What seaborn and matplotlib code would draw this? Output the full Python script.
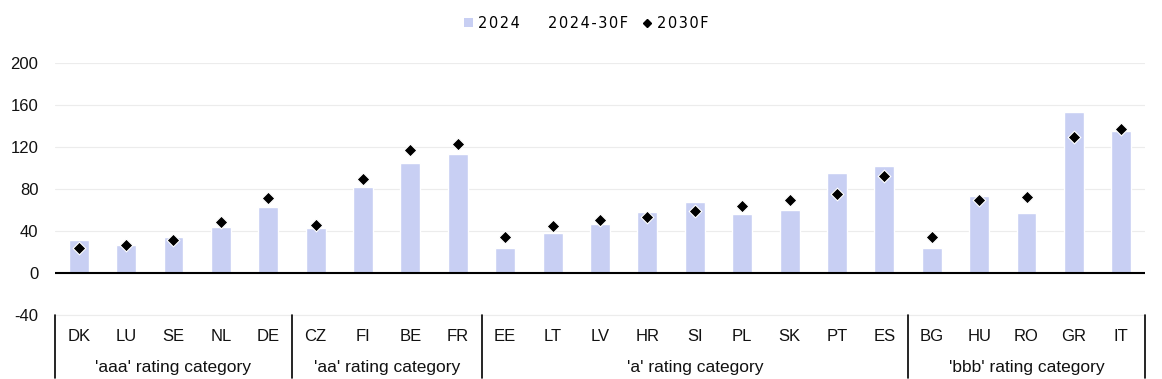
import matplotlib
matplotlib.use("Agg")
import matplotlib.pyplot as plt
import seaborn as sns
import pandas as pd
from matplotlib.patches import Patch
from matplotlib.lines import Line2D

countries = ["DK", "LU", "SE", "NL", "DE", "CZ", "FI", "BE", "FR",
             "EE", "LT", "LV", "HR", "SI", "PL", "SK", "PT", "ES",
             "BG", "HU", "RO", "GR", "IT"]
v2024 = [31, 27, 34, 43.5, 63, 43, 82, 105, 113,
         24, 38, 47, 58, 68, 56, 60, 95, 102,
         24, 73.5, 57.5, 153.5, 135]
v2030 = [24, 27, 31, 49, 71, 46, 90, 117.5, 122.5,
         34, 45, 50.5, 53.5, 59, 64, 70, 75.5, 92,
         34, 70, 72, 130, 137]
groups = ["'aaa' rating category", "'aa' rating category",
          "'a' rating category", "'bbb' rating category"]
group_sizes = [5, 4, 9, 5]
yticks = [-40, 0, 40, 80, 120, 160, 200]
legend_labels = ["2024", "2024-30F", "2030F"]

bar_color = "#c8cff3"

sns.set_theme(style="white")
plt.rcParams["font.family"] = ["Liberation Sans", "DejaVu Sans"]

df = pd.DataFrame({"country": countries, "v2024": v2024, "v2030": v2030})

fig = plt.figure(figsize=(11.62, 3.79), dpi=100)
ax = fig.add_axes([55 / 1162, (379 - 315) / 379, (1145 - 55) / 1162, (315 - 63) / 379])

sns.barplot(data=df, x="country", y="v2024", color=bar_color, width=0.42,
            saturation=1, ax=ax, zorder=2)
sns.scatterplot(data=df, x="country", y="v2030", marker="D", color="black",
                edgecolor="white", linewidth=0.8, s=42, ax=ax, zorder=3)

ax.set_xlim(-0.5, len(countries) - 0.5)
ax.set_ylim(-40, 200)
ax.set_yticks(yticks)
ax.set_yticklabels([str(t) for t in yticks], fontsize=12)
ax.yaxis.grid(True, color="#ececec", linewidth=0.8, zorder=0)
ax.set_axisbelow(True)
ax.axhline(0, color="black", linewidth=1.5, zorder=4)
ax.axhline(-40, color="#ececec", linewidth=0.8, zorder=0, clip_on=False)
for s in ax.spines.values():
    s.set_visible(False)
ax.set_xlabel("")
ax.set_ylabel("")
ax.tick_params(axis="y", length=0, pad=12, labelcolor="#111111")
ax.tick_params(axis="x", length=0, pad=10, labelsize=12, labelcolor="#111111")

# group separators and labels
trans = ax.get_xaxis_transform()
pos = -0.5
ax.plot([pos, pos], [0, -0.25], transform=trans, color="black", lw=1.2, clip_on=False)
for g, n in zip(groups, group_sizes):
    center = pos + n / 2
    ax.text(center, -0.208, g, transform=trans, ha="center", va="center",
            fontsize=12.5, color="#111111")
    pos += n
    ax.plot([pos, pos], [0, -0.25], transform=trans, color="black", lw=1.2, clip_on=False)

spaced = ["\u200a".join(lbl) for lbl in legend_labels]
handles = [Patch(facecolor=bar_color, edgecolor="none"),
           Patch(facecolor="none", edgecolor="none"),
           Line2D([], [], marker="D", color="black", linestyle="none", markersize=4)]
fig.legend(handles, spaced, loc="center",
           bbox_to_anchor=(586 / 1162, 1 - 23 / 379), ncol=3, frameon=False,
           prop={"family": ["DejaVu Sans"], "size": 10.5}, labelcolor="black",
           handlelength=0.65, handleheight=0.65, handletextpad=0.3,
           columnspacing=1.0)

fig.savefig("out.png", dpi=100)
